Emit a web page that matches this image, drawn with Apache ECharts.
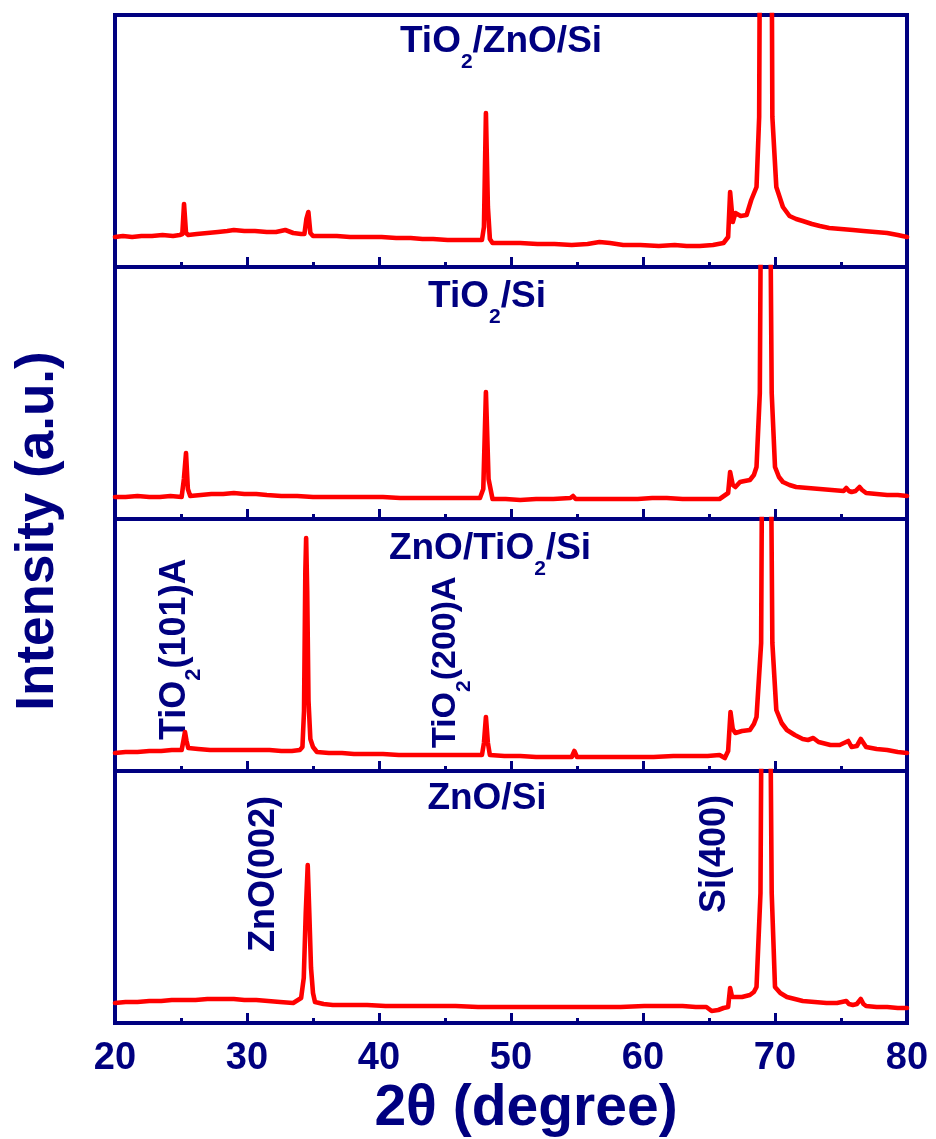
<!DOCTYPE html>
<html>
<head>
<meta charset="utf-8">
<title>XRD</title>
<script src="https://cdn.jsdelivr.net/npm/echarts/dist/echarts.min.js"></script>
<style>
  html, body { margin: 0; padding: 0; background: #fff; }
  #chart { width: 936px; height: 1139px; }
</style>
</head>
<body>
<div id="chart"></div>
<script>
// 2θ range and tick labels
const xMin = 20;
const xMax = 80;
const xTicks = [20, 30, 40, 50, 60, 70, 80];

// panel names, top to bottom
const panelNames = ['TiO{s|2}/ZnO/Si', 'TiO{s|2}/Si', 'ZnO/TiO{s|2}/Si', 'ZnO/Si'];

// [2θ, intensity (a.u.)]
const tio2ZnoSi = [
  [20.0,30],[20.6,31],[21.3,30],[22.0,31],[22.8,31],[23.6,32],[24.4,31],[24.9,32],[25.1,33],[25.23,63],[25.38,34],
  [25.55,32],[26.2,33],[27.0,34],[27.8,35],[28.5,36],[29.0,37],[29.8,36],[30.6,36],[31.5,35],[32.2,35],[32.9,37],
  [33.5,34],[34.1,33],[34.35,33],[34.5,48],[34.65,55],[34.8,34],[35.0,31],[35.8,31],[36.8,31],[37.8,30],[39.1,30],
  [40.2,30],[41.3,29],[42.4,29],[43.3,28],[44.1,28],[45.2,27],[46.3,27],[47.2,27],[47.8,27],[47.95,40],[48.1,154],
  [48.25,60],[48.4,28],[48.6,24],[49.5,24],[50.7,24],[52.0,23],[53.3,23],[54.6,22],[55.8,23],[56.7,25],[57.5,24],
  [58.5,22],[59.8,22],[61.2,21],[62.4,22],[63.3,21],[64.3,21],[65.3,22],[66.1,24],[66.45,30],[66.6,75],[66.8,45],
  [67.0,54],[67.4,51],[67.85,52],[68.2,67],[68.6,80],[68.8,150],[68.9,480],[69.7,480],[69.8,150],[70.1,80],
  [70.6,60],[71.1,51],[71.6,48],[72.1,46],[72.8,43],[73.4,41],[74.1,39],[75.0,38],[75.9,37],[76.7,36],[77.6,35],
  [78.5,34],[79.3,32],[80.0,30]
];
const tio2Si = [
  [20.0,22],[20.8,22],[21.7,23],[22.6,22],[23.4,22],[24.2,23],[25.05,22],[25.22,40],[25.38,66],[25.52,30],[25.7,23],
  [26.5,24],[27.3,25],[28.2,25],[29.0,26],[29.8,25],[30.7,25],[31.5,24],[32.6,23],[33.8,23],[35.0,22],[36.2,22],
  [37.5,22],[38.8,22],[40.3,22],[41.6,21],[42.9,21],[44.1,21],[45.3,21],[46.5,21],[47.65,21],[47.9,30],[48.1,127],
  [48.3,40],[48.6,20],[49.6,20],[50.7,19],[51.9,20],[53.2,20],[54.5,21],[54.7,23],[54.9,20],[56.2,20],[57.3,20],
  [58.3,20],[59.6,20],[60.7,21],[61.8,21],[63.0,20],[64.4,20],[65.8,20],[66.45,26],[66.6,47],[66.8,34],[67.0,32],
  [67.35,37],[67.7,38],[68.1,39],[68.4,44],[68.6,52],[68.85,126],[69.0,480],[69.55,480],[69.75,126],[70.0,52],
  [70.3,42],[70.6,37],[71.1,34],[71.6,32],[72.5,31],[73.4,30],[74.3,29],[75.2,28],[75.4,31],[75.6,28],[75.8,27],
  [76.1,28],[76.4,32],[76.6,29],[76.9,26],[77.7,25],[78.5,24],[79.3,24],[80.0,23]
];
const znoTio2Si = [
  [20.0,18],[20.8,19],[21.7,19],[22.6,20],[23.5,20],[24.3,21],[25.05,21],[25.18,30],[25.3,39],[25.42,30],[25.55,23],
  [26.3,22],[27.2,21],[28.1,21],[29.0,21],[29.9,21],[30.8,21],[31.7,21],[32.6,20],[33.4,20],[34.0,21],[34.2,24],
  [34.32,60],[34.42,200],[34.48,233],[34.56,180],[34.66,70],[34.8,32],[35.0,24],[35.3,19],[36.2,18],[37.2,18],
  [38.1,17],[39.1,17],[40.3,17],[41.5,16],[42.8,16],[44.1,16],[45.3,16],[46.6,16],[47.8,16],[47.95,28],[48.1,54],
  [48.25,28],[48.4,16],[49.5,15],[50.7,15],[51.9,14],[53.2,14],[54.6,14],[54.8,20],[55.0,14],[56.3,14],[57.6,14],
  [59.0,14],[60.8,14],[62.3,15],[63.7,15],[64.9,15],[65.8,16],[66.2,13],[66.45,20],[66.63,59],[66.8,42],[67.0,38],
  [67.5,40],[68.1,41],[68.4,47],[68.6,54],[68.95,128],[69.08,480],[69.6,480],[69.8,128],[70.1,61],[70.5,48],
  [70.9,41],[71.5,36],[72.1,32],[72.5,31],[72.9,33],[73.3,29],[74.2,26],[74.9,26],[75.55,30],[75.8,24],[76.2,25],
  [76.5,32],[76.9,24],[77.7,22],[78.5,21],[79.3,19],[80.0,18]
];
const znoSi = [
  [20.0,20],[20.8,21],[21.7,21],[22.6,22],[23.5,22],[24.3,23],[25.2,23],[26.1,23],[27.0,24],[27.8,24],[28.5,24],
  [29.0,24],[29.8,23],[30.7,23],[31.6,22],[32.5,21],[33.5,20],[34.1,25],[34.3,45],[34.45,110],[34.6,158],[34.72,110],
  [34.85,55],[35.0,30],[35.15,21],[35.8,19],[36.5,18],[37.8,18],[39.1,18],[40.5,17],[42.0,17],[44.1,17],[45.8,17],
  [47.5,16],[49.1,16],[50.7,16],[52.6,16],[54.5,16],[56.4,16],[58.3,16],[60.1,17],[61.6,17],[63.0,17],[64.0,16],
  [64.8,16],[65.2,12],[65.7,13],[66.1,15],[66.45,16],[66.6,35],[66.75,26],[66.9,25],[67.5,26],[68.1,28],[68.4,31],
  [68.6,36],[68.9,130],[69.05,480],[69.55,480],[69.75,130],[70.0,36],[70.4,30],[70.9,26],[71.5,24],[72.1,22],
  [73.0,21],[73.9,20],[74.7,20],[75.4,22],[75.6,19],[75.9,18],[76.2,19],[76.5,24],[76.7,19],[76.9,17],[77.7,16],
  [78.5,16],[79.3,15],[80.0,15]
];
const panelData = [tio2ZnoSi, tio2Si, znoTio2Si, znoSi];

const navy = '#000080';
const red = '#ff0000';
const font = "'Liberation Sans', Arial, sans-serif";

let myChart = echarts.init(document.getElementById('chart'));

// panel layout
const panelTops = [15, 267, 519, 771];
const panelHeight = 252;
const titlePos = [[501, 42], [487, 297], [490, 549], [487, 799]];

// subscript "2", shifted down by top padding
function subRich(size, pad) {
  return {
    s: {
      font: 'bold ' + size + 'px ' + font,
      fontSize: size, fontWeight: 'bold', fontFamily: font,
      padding: [pad, 0, 0, 0]
    }
  };
}

function labelText(text, x, y, size, rotate, subSize, subPad, align) {
  return {
    type: 'text',
    x: x,
    y: y,
    rotation: rotate ? Math.PI / 2 : 0,
    style: {
      text: text,
      fill: navy,
      fontSize: size,
      fontWeight: 'bold',
      fontFamily: font,
      align: align,
      textAlign: align,
      verticalAlign: 'middle',
      textVerticalAlign: 'middle',
      rich: subRich(subSize, subPad)
    }
  };
}

let grids = [], xAxes = [], yAxes = [], series = [], graphics = [];
for (let i = 0; i < 4; i++) {
  grids.push({
    left: 115, right: 29, top: panelTops[i], height: panelHeight,
    show: true, borderColor: navy, borderWidth: 4, backgroundColor: 'transparent'
  });
  xAxes.push({
    type: 'value', gridIndex: i, min: xMin, max: xMax, interval: 10,
    axisLine: { show: false },
    axisTick: { show: true, inside: true, length: 10, lineStyle: { color: navy, width: 3 } },
    minorTick: { show: true, splitNumber: 2, length: 5, lineStyle: { color: navy, width: 3 } },
    splitLine: { show: false },
    axisLabel: {
      show: i === 3, margin: 17, color: navy, fontSize: 38, fontWeight: 'bold', fontFamily: font,
      formatter: function (v) { return xTicks.indexOf(v) >= 0 ? String(v) : ''; }
    }
  });
  yAxes.push({ type: 'value', gridIndex: i, min: 0, max: panelHeight, show: false });
  series.push({
    type: 'line', xAxisIndex: i, yAxisIndex: i, data: panelData[i],
    showSymbol: false, clip: true, animation: false,
    lineStyle: { color: red, width: 4.6, join: 'round', cap: 'round' }
  });
  graphics.push(labelText(panelNames[i], titlePos[i][0], titlePos[i][1], 37, false, 21, 40, 'center'));
}

// peak labels, rotated
graphics.push(labelText('TiO{s|2}(101)A', 175, 740, 36, true, 22, 38, 'left'));
graphics.push(labelText('TiO{s|2}(200)A', 446, 748, 34, true, 21, 36, 'left'));
graphics.push(labelText('ZnO(002)', 264, 952, 36, true, 22, 38, 'left'));
graphics.push(labelText('Si(400)', 715, 913, 36, true, 22, 38, 'left'));

// axis titles
graphics.push(labelText('Intensity (a.u.)', 38, 531, 53, true, 20, 0, 'center'));
graphics.push(labelText('2θ (degree)', 526, 1109, 57, false, 20, 0, 'center'));

let option = {
  animation: false,
  grid: grids,
  xAxis: xAxes,
  yAxis: yAxes,
  series: series,
  graphic: graphics
};
myChart.setOption(option);
</script>
</body>
</html>
